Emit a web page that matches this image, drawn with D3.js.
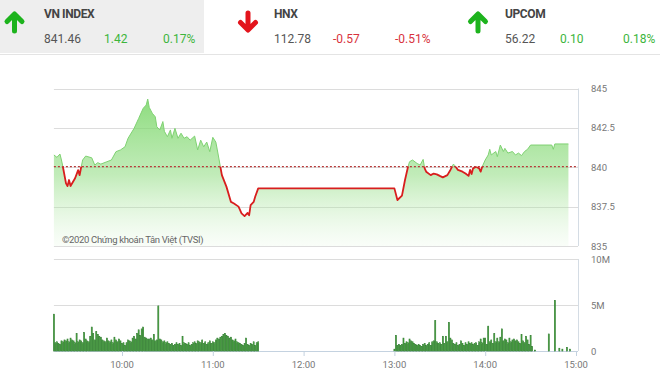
<!DOCTYPE html>
<html>
<head>
<meta charset="utf-8">
<script src="https://cdn.jsdelivr.net/npm/d3@7"></script>
<style>
  body { margin: 0; background: #fff; }
  svg { display: block; font-family: Roboto, "Noto Sans", sans-serif; }
</style>
</head>
<body>
<svg id="chart" width="660" height="383"></svg>
<script>
// header boxes
var indexNames = ['VN INDEX', 'HNX', 'UPCOM'];
var indexValues = ['841.46', '112.78', '56.22'];
var indexChanges = ['1.42', '-0.57', '0.10'];
var indexPercents = ['0.17%', '-0.51%', '0.18%'];

// price line (time, index value)
var priceTimes = [
  '09:15','09:17','09:19','09:20','09:21','09:23','09:24','09:25','09:26','09:29',
  '09:31','09:32','09:33','09:34','09:36','09:40','09:42','09:44','09:46','09:50',
  '09:53','09:56','09:59','10:02','10:04','10:08','10:11','10:14','10:16','10:17',
  '10:18','10:20','10:22','10:23','10:25','10:27','10:28','10:30','10:32','10:33',
  '10:35','10:37','10:39','10:41','10:43','10:45','10:48','10:50','10:52','10:54',
  '10:56','10:58','11:00','11:02','11:03','11:05','11:06','11:09','11:12','11:14',
  '11:17','11:19','11:21','11:23','11:24','11:25','11:27','11:28','11:30','13:00',
  '13:02','13:05','13:07','13:09','13:10','13:12','13:15','13:17','13:19','13:20',
  '13:21','13:24','13:26','13:28','13:30','13:32','13:35','13:37','13:39','13:40',
  '13:42','13:45','13:47','13:49','13:50','13:51','13:52','13:54','13:56','13:57',
  '13:58','14:00','14:02','14:03','14:04','14:07','14:08','14:10','14:12','14:13',
  '14:15','14:18','14:20','14:22','14:24','14:26','14:28','14:30','14:44','14:45',
  '14:46','14:55'
];
var priceValues = [
  840.78,840.63,840.84,840.46,840.0,838.98,838.8,839.19,838.81,839.3,
  839.82,839.5,840.0,840.46,840.71,840.6,840.14,840.29,840.2,840.35,
  840.46,840.99,841.1,841.3,841.84,842.47,843.1,843.74,843.95,844.33,
  843.8,843.43,843.2,842.57,842.37,842.9,842.28,841.94,842.37,841.84,
  842.47,841.84,842.16,841.84,841.94,841.72,841.98,841.1,841.72,841.3,
  841.6,840.99,841.9,841.6,841.1,840.03,839.5,838.77,837.8,837.7,
  837.5,837.07,836.9,837.1,836.95,837.6,837.8,838.13,838.66,838.66,
  837.92,838.2,839.19,840.03,840.35,840.46,840.24,840.14,840.5,839.93,
  839.72,839.5,839.6,839.55,839.45,839.36,839.5,839.83,840.2,840.1,
  839.83,839.72,839.6,839.45,839.83,839.57,839.93,840.03,839.93,839.72,
  840.03,840.46,840.78,841.14,840.78,841.0,840.67,841.41,841.0,841.2,
  840.9,841.0,840.78,840.9,840.74,841.0,841.14,841.41,841.41,841.14,
  841.48,841.48
];
var refPrice = 840.04;

// volume in millions, one bar per minute
var volMorningStart = '09:15';
var volMorning = [
  4.0,0.9,1.0,0.8,0.7,1.1,1.0,1.2,1.1,1.3,1.0,
  1.4,1.2,1.1,0.9,1.9,1.0,1.2,1.1,0.9,2.0,
  1.3,1.1,1.0,1.6,2.6,1.9,1.2,2.1,1.8,1.6,
  1.5,1.2,1.1,1.0,1.4,1.1,1.0,1.2,0.9,1.5,
  1.2,1.0,1.3,1.1,0.8,0.9,0.6,0.9,1.2,1.1,
  1.0,1.4,1.6,1.3,1.9,2.3,1.7,2.4,2.6,1.5,
  1.4,1.3,1.3,1.4,1.2,1.8,1.1,1.2,4.9,1.3,
  1.2,1.0,1.1,0.9,1.0,0.8,0.7,0.8,0.6,0.7,
  0.9,0.7,0.8,0.6,1.6,0.9,0.8,0.7,0.9,0.6,
  0.7,0.9,1.0,0.8,1.1,1.0,0.9,1.2,0.8,1.0,
  0.7,0.9,1.1,0.8,1.0,0.9,1.2,1.4,1.3,1.5,
  1.6,1.8,1.9,1.7,1.6,1.4,1.5,1.2,1.1,1.3,
  1.0,0.9,0.8,0.7,0.6,0.8,1.4,0.7,0.6,0.8,
  0.7,1.0,0.6,0.9,1.0
];
var volAfternoonStart = '13:00';
var volAfternoon = [
  0.2,1.7,0.6,0.7,0.6,0.7,1.4,0.8,1.0,0.9,
  1.3,1.1,1.0,0.8,0.7,0.6,0.7,0.6,0.5,0.7,
  0.8,0.6,0.7,0.9,0.6,1.0,1.1,3.3,1.0,0.8,
  0.9,0.7,1.6,0.8,1.6,1.0,3.1,1.4,1.2,0.8,
  0.7,0.9,0.6,0.7,1.1,0.8,0.6,0.9,0.7,1.0,
  0.8,0.9,0.7,0.8,0.9,0.6,1.0,1.3,0.9,1.4,
  1.4,0.7,2.7,1.0,1.2,0.8,1.9,1.0,1.4,1.0,
  1.5,2.4,1.1,1.3,1.2,0.9,1.4,1.0,1.2,1.3,
  1.1,1.2,1.0,0.8,1.8,1.1,0.9,1.6,1.2,0.7,
  1.7,0.5,0,0.1
];
var volLateTimes = ['14:42','14:46','14:49','14:51','14:54','14:56'];
var volLateValues = [1.85,5.5,0.3,0.2,0.4,0.2];

var priceTicks = [845, 842.5, 840, 837.5, 835];
var volTicks = [10, 5, 0];
var volTickLabels = ['10M', '5M', '0'];
var timeTicks = ['10:00','11:00','12:00','13:00','14:00','15:00'];

var parseTime = d3.timeParse('%H:%M');
var svg = d3.select('#chart');

var green = '#22b422';
var red = '#d8323c';

// ---------- header ----------
svg.append('rect').attr('x', 0).attr('y', 0).attr('width', 204).attr('height', 53).attr('fill', '#eeeeee');
svg.append('line').attr('x1', 0).attr('x2', 660).attr('y1', 54.5).attr('y2', 54.5)
  .attr('stroke', '#e4e4e4');

var boxX = [44, 274, 505];
var arrowX = [14.5, 248, 478];
var changeX = [104, 333, 560];
var pctX = [163, 395, 623];

indexNames.forEach(function (name, i) {
  var up = indexChanges[i].charAt(0) !== '-';
  var ax = arrowX[i];
  var arrowPath = up
    ? 'M' + ax + ',31V15M' + (ax - 7.5) + ',21.5L' + ax + ',14L' + (ax + 7.5) + ',21.5'
    : 'M' + ax + ',13V29M' + (ax - 7.5) + ',22.5L' + ax + ',30L' + (ax + 7.5) + ',22.5';
  svg.append('path').attr('d', arrowPath)
    .attr('fill', 'none').attr('stroke', up ? '#1db31d' : '#e3141c')
    .attr('stroke-width', 5).attr('stroke-linecap', 'round').attr('stroke-linejoin', 'round');

  svg.append('text').attr('x', boxX[i]).attr('y', 18)
    .attr('font-size', 12).attr('font-weight', 'bold').attr('fill', '#444')
    .attr('letter-spacing', -0.4)
    .text(name);
  svg.append('text').attr('x', boxX[i]).attr('y', 43)
    .attr('font-size', 12).attr('fill', '#555').text(indexValues[i]);
  svg.append('text').attr('x', changeX[i]).attr('y', 43)
    .attr('font-size', 12).attr('fill', up ? '#3cb53c' : red).text(indexChanges[i]);
  svg.append('text').attr('x', pctX[i]).attr('y', 43)
    .attr('font-size', 12).attr('fill', up ? '#3cb53c' : red).text(indexPercents[i]);
});

// ---------- scales ----------
var x = d3.scaleTime()
  .domain([parseTime('10:00'), parseTime('15:00')])
  .range([122, 576]);
var plotLeft = x(parseTime('09:15'));
var plotRight = 578;

var y = d3.scaleLinear().domain([835, 845]).range([246, 88.5]);
var yv = d3.scaleLinear().domain([0, 10]).range([351, 259]);

var grid = '#dcdcdc';
var axisText = '#777';

// ---------- price panel ----------
svg.append('g').selectAll('line').data(priceTicks).join('line')
  .attr('x1', plotLeft).attr('x2', plotRight)
  .attr('y1', function (d) { return Math.round(y(d)) + 0.5; })
  .attr('y2', function (d) { return Math.round(y(d)) + 0.5; })
  .attr('stroke', grid);
svg.append('line').attr('x1', plotRight + 0.5).attr('x2', plotRight + 0.5)
  .attr('y1', y(845)).attr('y2', y(835)).attr('stroke', '#d4dce4');

svg.append('g').selectAll('text').data(priceTicks).join('text')
  .attr('x', 591).attr('y', function (d) { return y(d) + 3.5; })
  .attr('font-size', 9.5).attr('fill', axisText)
  .text(function (d) { return d; });

var pts = priceTimes.map(function (t, i) { return { t: parseTime(t), v: priceValues[i] }; });

var defs = svg.append('defs');
var grad = defs.append('linearGradient').attr('id', 'areaGrad')
  .attr('gradientUnits', 'userSpaceOnUse')
  .attr('x1', 0).attr('x2', 0).attr('y1', y(845)).attr('y2', y(835));
grad.append('stop').attr('offset', '0%').attr('stop-color', '#6fd35c').attr('stop-opacity', 0.85);
grad.append('stop').attr('offset', '55%').attr('stop-color', '#8fdc80').attr('stop-opacity', 0.55);
grad.append('stop').attr('offset', '100%').attr('stop-color', '#c8efc0').attr('stop-opacity', 0.1);

var refY = y(refPrice);
defs.append('clipPath').attr('id', 'clipUp').append('rect')
  .attr('x', 0).attr('y', 0).attr('width', 660).attr('height', refY);
defs.append('clipPath').attr('id', 'clipDown').append('rect')
  .attr('x', 0).attr('y', refY).attr('width', 660).attr('height', 383 - refY);

var area = d3.area()
  .x(function (d) { return x(d.t); })
  .y0(y(835))
  .y1(function (d) { return y(d.v); });
var line = d3.line()
  .x(function (d) { return x(d.t); })
  .y(function (d) { return y(d.v); });

svg.append('path').datum(pts).attr('d', area).attr('fill', 'url(#areaGrad)');
svg.append('path').datum(pts).attr('d', line)
  .attr('fill', 'none').attr('stroke', '#7fd172').attr('stroke-width', 1)
  .attr('clip-path', 'url(#clipUp)');
svg.append('path').datum(pts).attr('d', line)
  .attr('fill', 'none').attr('stroke', '#d81e1e').attr('stroke-width', 1.8)
  .attr('stroke-linejoin', 'round')
  .attr('clip-path', 'url(#clipDown)');

svg.append('line').attr('x1', plotLeft).attr('x2', plotRight)
  .attr('y1', refY).attr('y2', refY)
  .attr('stroke', '#b83a3a').attr('stroke-width', 1.2).attr('stroke-dasharray', '2,2');

svg.append('text').attr('x', 62).attr('y', 243)
  .attr('font-size', 9.5).attr('letter-spacing', -0.35).attr('fill', '#666')
  .text('©2020 Chứng khoán Tân Việt (TVSI)');

// ---------- volume panel ----------
svg.append('g').selectAll('line').data(volTicks).join('line')
  .attr('x1', plotLeft).attr('x2', plotRight)
  .attr('y1', function (d) { return Math.round(yv(d)) + 0.5; })
  .attr('y2', function (d) { return Math.round(yv(d)) + 0.5; })
  .attr('stroke', function (d) { return d === 0 ? '#c4d2e0' : grid; });
svg.append('line').attr('x1', plotRight + 0.5).attr('x2', plotRight + 0.5)
  .attr('y1', yv(10)).attr('y2', yv(0)).attr('stroke', '#d4dce4');

svg.append('g').selectAll('text').data(volTicks).join('text')
  .attr('x', 591).attr('y', function (d) { return yv(d) + 3.5; })
  .attr('font-size', 9.5).attr('fill', axisText)
  .text(function (d, i) { return volTickLabels[i]; });

var bars = [];
volMorning.forEach(function (v, i) {
  bars.push({ t: d3.timeMinute.offset(parseTime(volMorningStart), i), v: v });
});
volAfternoon.forEach(function (v, i) {
  bars.push({ t: d3.timeMinute.offset(parseTime(volAfternoonStart), i), v: v });
});
volLateTimes.forEach(function (t, i) {
  bars.push({ t: parseTime(t), v: volLateValues[i] });
});

svg.append('g').selectAll('rect').data(bars.filter(function (d) { return d.v > 0; })).join('rect')
  .attr('x', function (d) { return x(d.t) - 0.5; })
  .attr('width', 1)
  .attr('y', function (d) { return yv(d.v); })
  .attr('height', function (d) { return yv(0) - yv(d.v); })
  .attr('fill', '#5fbf52')
  .attr('stroke', '#1f6f1f')
  .attr('stroke-width', 0.6);

// time axis
var xAxis = svg.append('g');
xAxis.selectAll('line').data(timeTicks).join('line')
  .attr('x1', function (d) { return x(parseTime(d)) + 0.5; })
  .attr('x2', function (d) { return x(parseTime(d)) + 0.5; })
  .attr('y1', yv(0)).attr('y2', yv(0) + 5)
  .attr('stroke', '#c4d2e0');
xAxis.selectAll('text').data(timeTicks).join('text')
  .attr('x', function (d) { return x(parseTime(d)); })
  .attr('y', 368)
  .attr('text-anchor', 'middle')
  .attr('font-size', 9.5).attr('fill', axisText)
  .text(function (d) { return d; });
</script>
</body>
</html>
